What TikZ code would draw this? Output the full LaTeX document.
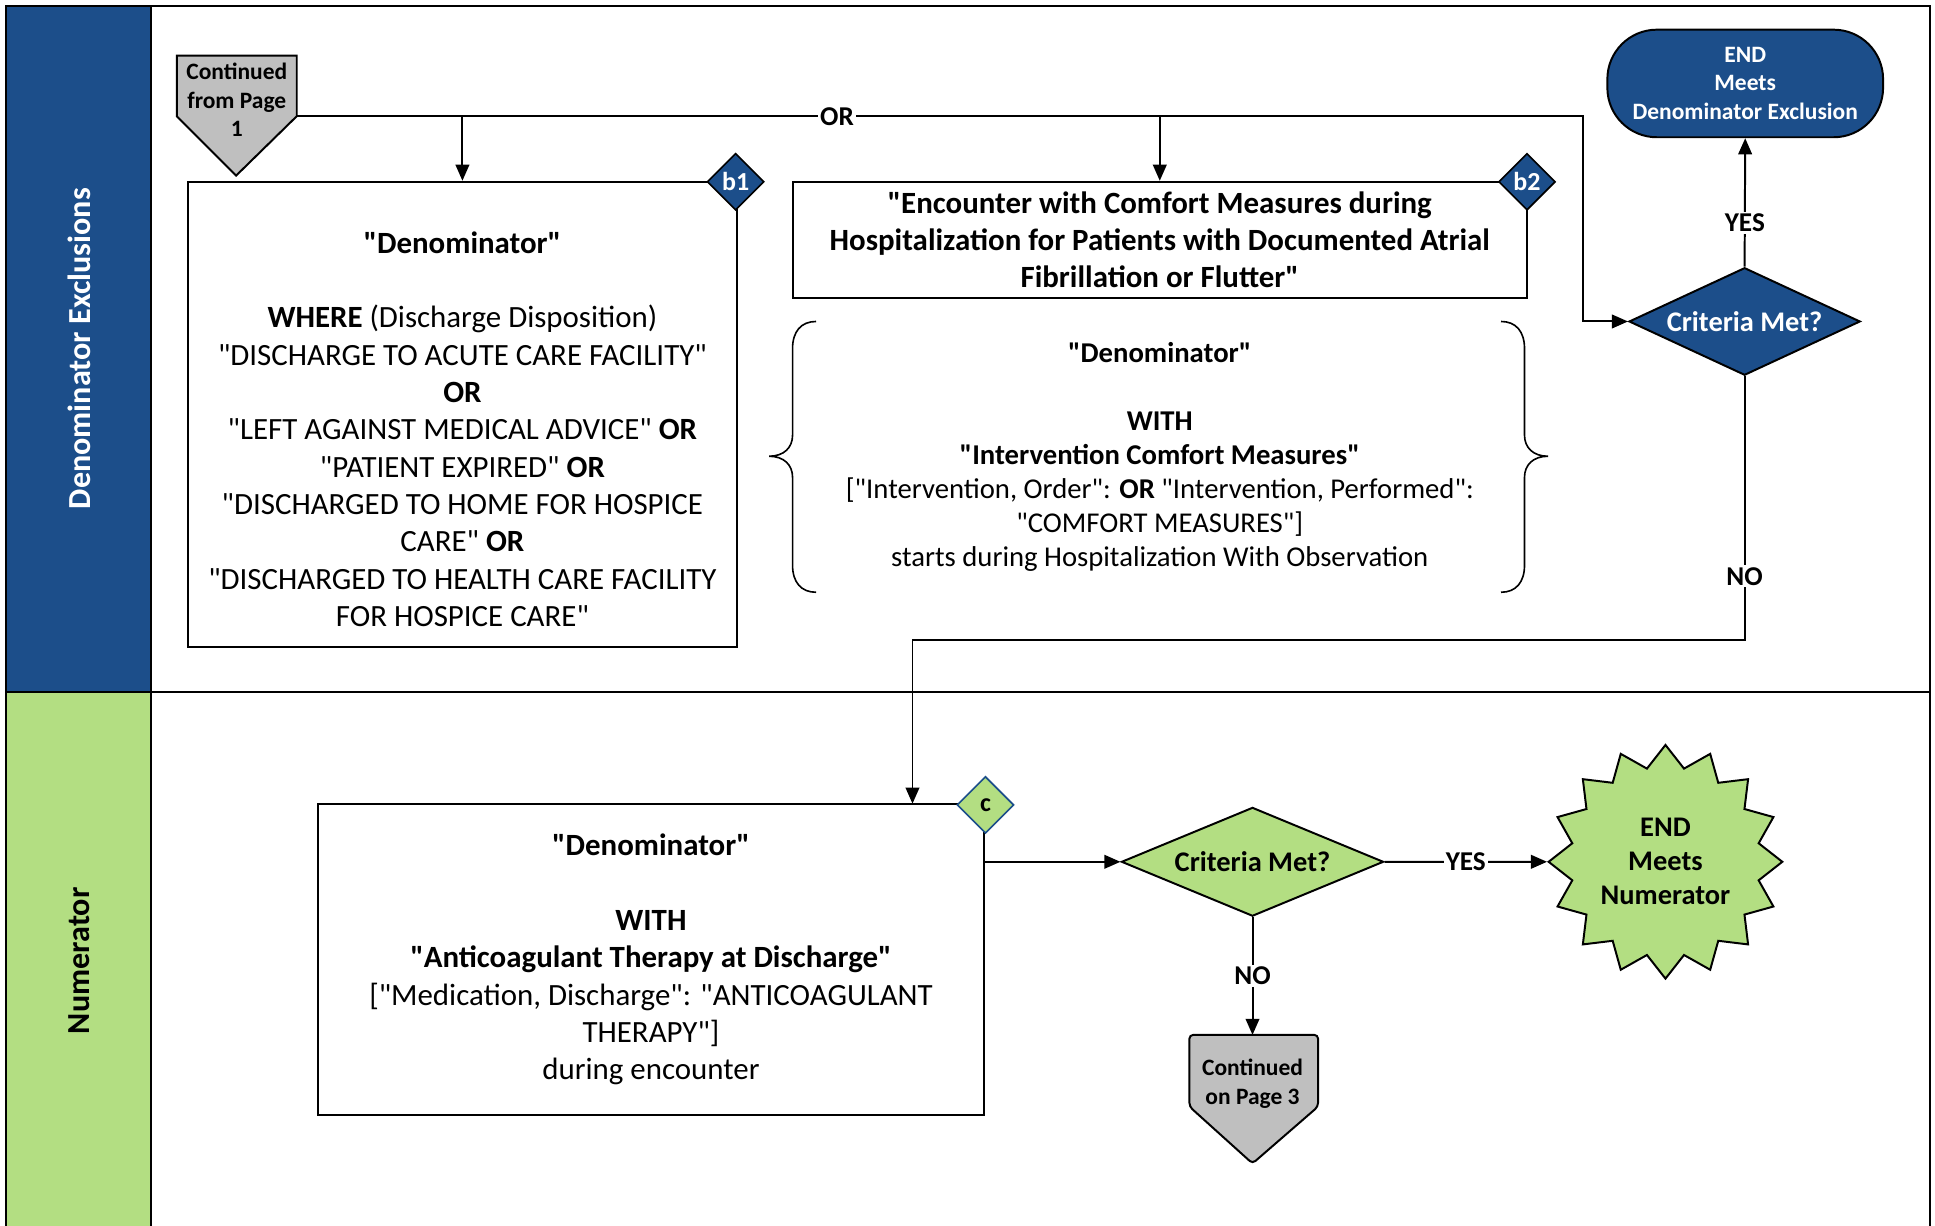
\documentclass[tikz,border=0pt]{standalone}
\usepackage{fontspec}
\setmainfont{Carlito}[Ligatures=TeXOff]
\usetikzlibrary{arrows.meta,shapes.geometric}
\definecolor{dblue}{RGB}{28,78,138}
\definecolor{lgreen}{RGB}{179,222,130}
\definecolor{cgray}{RGB}{191,191,191}
\begin{document}
\begin{tikzpicture}[x=1pt,y=-1pt,
  box/.style={draw=black, line width=1.6pt, inner sep=0pt},
  big/.style={font=\fontsize{25}{30.2}\selectfont},
  mid/.style={font=\fontsize{23.2}{27.5}\selectfont},
  lbl/.style={font=\bfseries\fontsize{22}{26}\selectfont, fill=white, inner sep=1.5pt},
  arr/.style={-{Triangle[length=13pt,width=11pt]}, line width=1.6pt},
  tag/.style={diamond, draw=black, fill=dblue, text=white, minimum width=46pt, minimum height=46pt, inner sep=0pt, line width=1.3pt, font=\bfseries\fontsize{21}{25}\selectfont},
  lanetxt/.style={rotate=90, font=\bfseries\fontsize{26}{30}\selectfont},
  offpage/.style={draw=black, fill=cgray, line width=1.6pt}
]
\useasboundingbox (0,0) rectangle (1565,991);
% lanes
\fill[white] (0,0) rectangle (1565,991);
\draw[line width=1.6pt, fill=dblue] (5,5) rectangle (122,560);
\draw[line width=1.6pt, fill=lgreen] (5,560) rectangle (122,1000);
\draw[line width=1.6pt] (122,5) rectangle (1561,560);
\draw[line width=1.6pt] (122,560) -- (1561,560) -- (1561,1000);
\node[lanetxt, text=white] (lane1) at (64,282) {Denominator Exclusions};
\node[lanetxt, text=black] (lane2) at (64,777) {Numerator};

% continued from page 1
\draw[offpage] (143,45) -- (240,45) -- (240,94) -- (191,142) -- (143,94) -- cycle;
\node[align=center, font=\bfseries\fontsize{19}{23}\selectfont] (cont1) at (191.5,81) {Continued\\from Page\\1};
\coordinate (c1out) at (240,94);
\coordinate (orturn) at (1280,94);

% box b1
\node[box, minimum width=444pt, minimum height=376pt] (b1box) at (374,335) {};
\node[big, align=center] (b1txt) at (374,347) {\textbf{"Denominator"}\\~\\\textbf{WHERE} (Discharge Disposition)\\"DISCHARGE TO ACUTE CARE FACILITY"\\\textbf{OR}\\"LEFT AGAINST MEDICAL ADVICE" \textbf{OR}\\"PATIENT EXPIRED" \textbf{OR}\\"DISCHARGED TO HOME FOR HOSPICE\\CARE" \textbf{OR}\\"DISCHARGED TO HEALTH CARE FACILITY\\FOR HOSPICE CARE"};
\node[tag] (tb1) at (595,147) {b1};

% box b2
\node[box, align=center, minimum width=594pt, minimum height=94pt, font=\bfseries\fontsize{25}{30.2}\selectfont] (b2box) at (938,194) {"Encounter with Comfort Measures during\\Hospitalization for Patients with Documented Atrial\\Fibrillation or Flutter"};
\node[tag] (tb2) at (1235,147) {b2};

% brace group
\node[mid, align=center] (grp) at (938,369.5) {\textbf{"Denominator"}\\~\\\textbf{WITH}\\\textbf{"Intervention Comfort Measures"}\\\relax["Intervention, Order": \textbf{OR} "Intervention, Performed":\\"COMFORT MEASURES"]\\starts during Hospitalization With Observation};
\draw[line width=1.3pt] (660,260) .. controls (648,260) and (641,268) .. (641,282) -- (641,352) .. controls (641,362) and (634,369) .. (622,369) .. controls (634,369) and (641,376) .. (641,386) -- (641,457) .. controls (641,471) and (648,479) .. (660,479);
\draw[line width=1.3pt] (1214,260) .. controls (1226,260) and (1233,268) .. (1233,282) -- (1233,352) .. controls (1233,362) and (1240,369) .. (1252,369) .. controls (1240,369) and (1233,376) .. (1233,386) -- (1233,457) .. controls (1233,471) and (1226,479) .. (1214,479);

% end denominator exclusion
\node[draw=black, fill=dblue, rounded corners=40pt, minimum width=223pt, minimum height=87pt, text=white, align=center, line width=1.6pt, font=\bfseries\fontsize{19}{23}\selectfont] (endden) at (1411.5,67.5) {END\\Meets\\Denominator Exclusion};

% criteria 1
\node[diamond, aspect=2.15, draw=black, fill=dblue, text=white, minimum width=187pt, minimum height=87pt, inner sep=0pt, line width=1.6pt, font=\bfseries\fontsize{23}{27}\selectfont] (crit1) at (1411,260) {Criteria Met?};

% box c
\node[box, big, align=center, minimum width=539pt, minimum height=252pt] (cbox) at (526.5,776) {\textbf{"Denominator"}\\~\\\textbf{WITH}\\\textbf{"Anticoagulant Therapy at Discharge"}\\\relax["Medication, Discharge": "ANTICOAGULANT\\THERAPY"]\\during encounter};
\node[tag, fill=lgreen, draw=dblue, text=black] (tc) at (797,651) {c};

% criteria 2
\node[diamond, aspect=2.4, draw=black, fill=lgreen, minimum width=212pt, minimum height=88pt, inner sep=0pt, line width=1.6pt, font=\bfseries\fontsize{23}{27}\selectfont] (crit2) at (1013,697) {Criteria Met?};

% star
\node[star, star points=16, star point ratio=1.23, draw=black, fill=lgreen, minimum size=189pt, inner sep=0pt, line width=1.6pt, align=center, font=\bfseries\fontsize{23}{27.5}\selectfont] (star) at (1347,697) {END\\Meets\\Numerator};

% continued on page 3
\draw[offpage, rounded corners=3pt] (962,837) -- (1066,837) -- (1066,895) -- (1013,941) -- (962,895) -- cycle;
\node[align=center, font=\bfseries\fontsize{19}{23}\selectfont] (cont3) at (1013,876.5) {Continued\\on Page 3};
\coordinate (cont3top) at (1013,837);

% connectors
\draw[arr] (c1out) -- (orturn) |- (crit1.west);
\node[lbl] (orl) at (677,94) {OR};
\draw[arr] (b1box.north |- c1out) -- (b1box.north);
\draw[arr] (b2box.north |- c1out) -- (b2box.north);
\draw[arr] (crit1.north) -- node[lbl, pos=0.343] (yes1) {YES} (endden.south);
\coordinate (noturn) at (1411,518);
\coordinate (cin) at (738,650);
\draw[arr] (crit1.south) -- (noturn) -| (cin);
\node[lbl] (no1) at (1411,466) {NO};
\draw[arr] (cbox.east |- crit2.west) -- (crit2.west);
\draw[arr] (crit2.east) -- node[lbl, pos=0.5] (yes2) {YES} (star.west);
\draw[arr] (crit2.south) -- node[lbl, pos=0.5] (no2) {NO} (cont3top);
\end{tikzpicture}
\end{document}
